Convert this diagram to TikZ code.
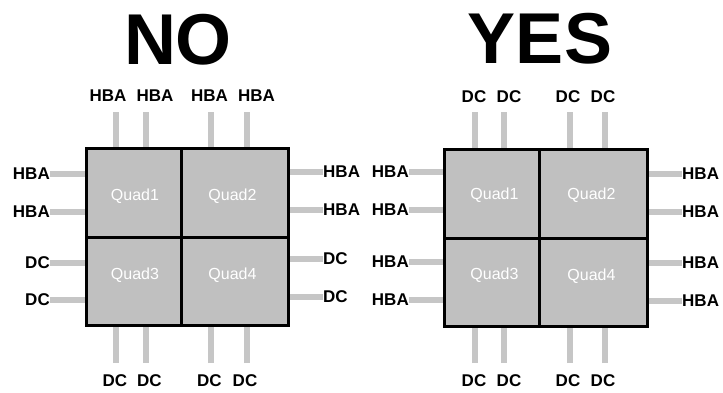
\documentclass[tikz,border=0pt]{standalone}
\usepackage{fontspec}
\setmainfont{Liberation Sans}
\usetikzlibrary{backgrounds}
\definecolor{Quadgray}{HTML}{C0C0C0}
\definecolor{Portgray}{HTML}{C6C6C6}
\tikzstyle{quad} = [
    rectangle,
    draw=black,
    line width=3pt,
    fill=Quadgray,
    inner sep=0pt
]
\tikzstyle{quadname} = [
    text=white,
    font=\fontsize{16}{18}\selectfont,
    inner sep=0pt
]
\tikzstyle{port} = [
    font=\bfseries\fontsize{17}{20}\selectfont,
    inner sep=0pt
]
\tikzstyle{title} = [
    font=\bfseries\fontsize{72}{80}\selectfont,
    inner sep=0pt,
    anchor=base
]
\tikzstyle{wire} = [
    Portgray,
    line width=6pt
]

\begin{document}
\begin{tikzpicture}[x=1pt, y=-1pt]
    \useasboundingbox (0,0) rectangle (723,392);

    \node (no)   [title] at (178,64)   {NO};
    \node (yes)  [title] at (540,63)   {YES};

    % left block
    \node (noQ1) [quad, minimum width=95pt,  minimum height=89pt] at (133.5,192.5) {};
    \node (noQ2) [quad, minimum width=107pt, minimum height=89pt] at (234.5,192.5) {};
    \node (noQ3) [quad, minimum width=95pt,  minimum height=88pt] at (133.5,281)   {};
    \node (noQ4) [quad, minimum width=107pt, minimum height=88pt] at (234.5,281)   {};
    \node (noN1) [quadname] at (135,196)   {Quad1};
    \node (noN2) [quadname] at (232.5,196) {Quad2};
    \node (noN3) [quadname] at (135,275)   {Quad3};
    \node (noN4) [quadname] at (232.5,275) {Quad4};

    % right block
    \node (yesQ1) [quad, minimum width=95pt,  minimum height=89pt] at (491.5,193.5) {};
    \node (yesQ2) [quad, minimum width=108pt, minimum height=89pt] at (593,193.5)   {};
    \node (yesQ3) [quad, minimum width=95pt,  minimum height=88pt] at (491.5,282)   {};
    \node (yesQ4) [quad, minimum width=108pt, minimum height=88pt] at (593,282)     {};
    \node (yesN1) [quadname] at (494.5,195) {Quad1};
    \node (yesN2) [quadname] at (591.5,195) {Quad2};
    \node (yesN3) [quadname] at (494.5,275) {Quad3};
    \node (yesN4) [quadname] at (591.5,276) {Quad4};

    \begin{scope}[on background layer]
        % ports of the left block
        \foreach \i/\sx/\lx in {1/116/108, 2/146/155, 3/211/209.5, 4/247/256.5} {
            \node (noT\i) [port, anchor=base] at (\lx,101) {HBA};
            \coordinate (noTe\i) at (\sx,112);
            \draw [wire] (noTe\i) -- (noTe\i |- noQ1.north);
        }
        \foreach \i/\sx/\lx in {1/116/115, 2/146/149.5, 3/211/209.5, 4/247/245} {
            \node (noB\i) [port, anchor=base] at (\lx,386) {DC};
            \coordinate (noBe\i) at (\sx,363);
            \draw [wire] (noBe\i) -- (noBe\i |- noQ3.south);
        }
        \foreach \i/\y/\t in {1/174/HBA, 2/212/HBA, 3/263/DC, 4/300/DC} {
            \node (noL\i) [port, anchor=east] at (50,\y) {\t};
            \draw [wire] (noL\i.east) -- (noL\i.east -| noQ1.west);
        }
        \foreach \i/\y/\t in {1/172/HBA, 2/210/HBA, 3/259/DC, 4/297/DC} {
            \node (noR\i) [port, anchor=west] at (323,\y) {\t};
            \draw [wire] (noR\i.west) -- (noR\i.west -| noQ2.east);
        }

        % ports of the right block
        \foreach \i/\sx/\lx in {1/475/474, 2/504/509, 3/570/568, 4/605/603} {
            \node (yesT\i) [port, anchor=base] at (\lx,102) {DC};
            \coordinate (yesTe\i) at (\sx,112);
            \draw [wire] (yesTe\i) -- (yesTe\i |- yesQ1.north);
            \node (yesB\i) [port, anchor=base] at (\lx,386) {DC};
            \coordinate (yesBe\i) at (\sx,363);
            \draw [wire] (yesBe\i) -- (yesBe\i |- yesQ3.south);
        }
        \foreach \i/\y in {1/172, 2/210, 3/262, 4/300} {
            \node (yesL\i) [port, anchor=east] at (409,\y) {HBA};
            \draw [wire] (yesL\i.east) -- (yesL\i.east -| yesQ1.west);
        }
        \foreach \i/\y in {1/174, 2/212, 3/263, 4/301} {
            \node (yesR\i) [port, anchor=west] at (682,\y) {HBA};
            \draw [wire] (yesR\i.west) -- (yesR\i.west -| yesQ2.east);
        }
    \end{scope}
\end{tikzpicture}
\end{document}
